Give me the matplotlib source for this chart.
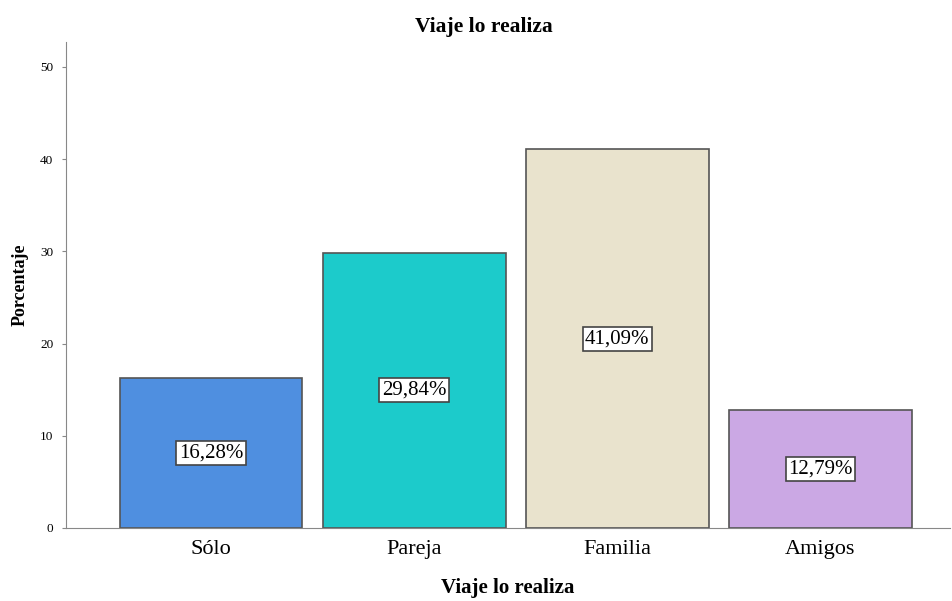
import matplotlib
matplotlib.use("Agg")
from matplotlib import pyplot as plt

categorias = ["Sólo", "Pareja", "Familia", "Amigos"]
porcentajes = [16.28, 29.84, 41.09, 12.79]
colores = ["#4f8fe0", "#1ccbcb", "#e9e3cd", "#cba8e4"]
yticks = [0, 10, 20, 30, 40, 50]

plt.rcParams['font.family'] = ['Liberation Serif', 'DejaVu Serif']

fig = plt.figure(figsize=(9.52, 6.01), dpi=100)
ax = fig.add_axes([0.0693, 0.1215, 0.929, 0.8085])

x = list(range(len(categorias)))
ax.bar(x, porcentajes, width=0.9, color=colores, edgecolor="#555555", linewidth=1.2, zorder=2)

# etiquetas de porcentaje en el centro de cada barra
for xi, v in zip(x, porcentajes):
    ax.text(xi, v / 2, f"{v:.2f}%".replace(".", ","), ha="center", va="center", fontsize=15,
            bbox=dict(boxstyle="square,pad=0.12", facecolor="white", edgecolor="#444444", linewidth=1.2),
            zorder=3)

ax.set_xlim(-0.714, 3.64)
ax.set_ylim(0, 52.7)
ax.set_xticks(x)
ax.set_xticklabels(categorias, fontsize=16)
ax.set_yticks(yticks)
ax.set_yticklabels([str(t) for t in yticks], fontsize=9.5)
ax.tick_params(axis="x", length=0, pad=9)
ax.tick_params(axis="y", length=3, color="#888888", pad=6)

for s in ["top", "right"]:
    ax.spines[s].set_visible(False)
ax.spines["left"].set_color("#888888")
ax.spines["bottom"].set_color("#888888")

ax.set_ylabel("Porcentaje", fontsize=13, fontweight="bold", labelpad=8)
fig.text(0.508, 0.955, "Viaje lo realiza", ha="center", va="center", fontsize=15.5, fontweight="bold")
ax.set_xlabel("Viaje lo realiza", fontsize=15, fontweight="bold", labelpad=13)

plt.savefig("out.png", dpi=100)
